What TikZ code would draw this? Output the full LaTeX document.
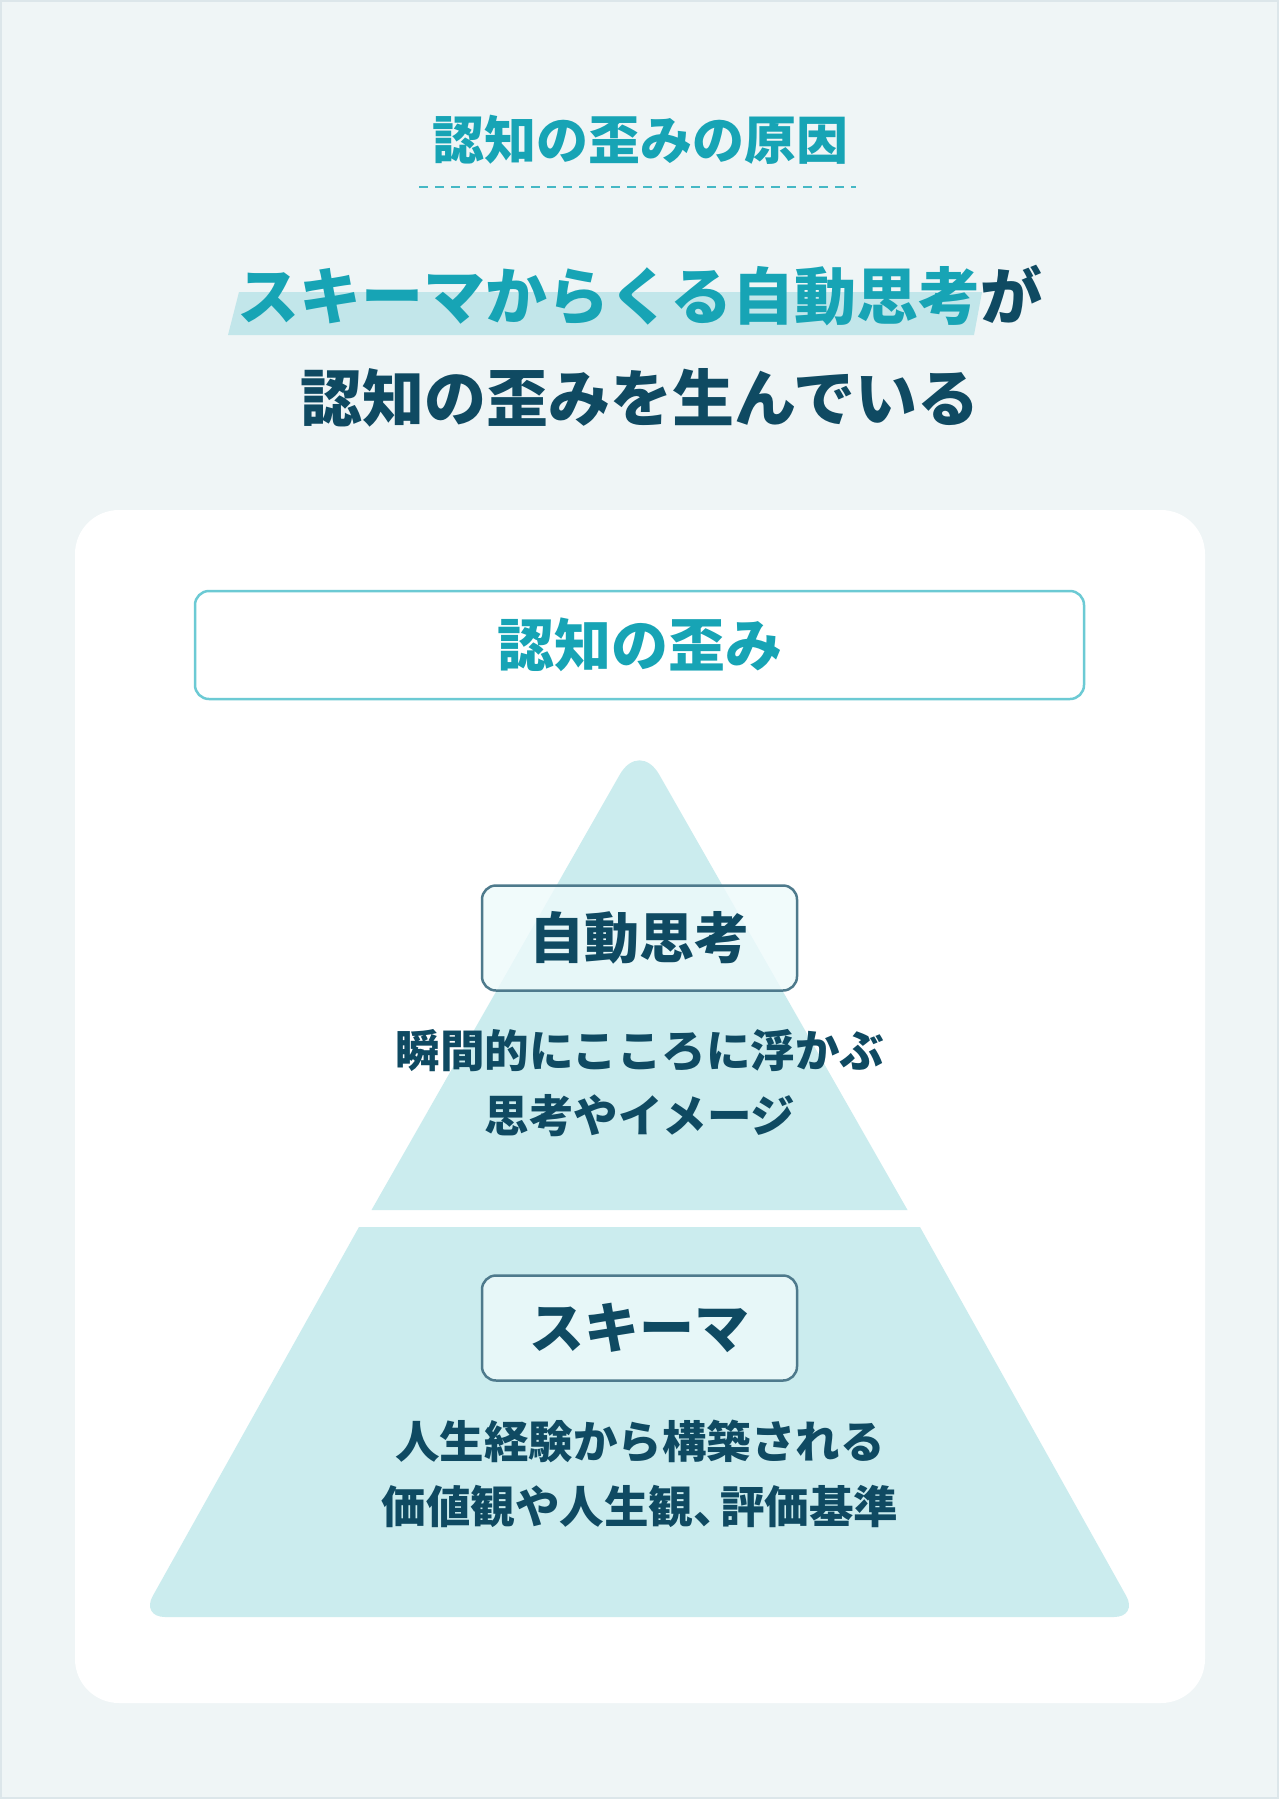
\documentclass[tikz,border=0pt]{standalone}
\usepackage{fontspec}
\setmainfont{Noto Sans CJK JP}
\usepackage{tikz}
\usetikzlibrary{positioning,calc}
\definecolor{ktPage}{HTML}{EFF5F6}
\definecolor{ktEdge}{HTML}{DCE6EA}
\definecolor{ktTeal}{HTML}{17A4B5}
\definecolor{ktDash}{HTML}{45B8C5}
\definecolor{ktBand}{HTML}{C2E6EA}
\definecolor{ktNavy}{HTML}{0F4A62}
\definecolor{ktBorder}{HTML}{6CCAD4}
\definecolor{ktSlate}{HTML}{4E7A8C}
\definecolor{ktPyramid}{HTML}{CBECEE}
\definecolor{ktBoxFill}{HTML}{EEFAFB}
\tikzset{
  titletext/.style={font=\bfseries\fontsize{52pt}{60pt}\selectfont, text=ktTeal, inner sep=0pt},
  headtext/.style={font=\bfseries\fontsize{62pt}{70pt}\selectfont, text=ktNavy, inner sep=0pt},
  keybox/.style={
    rectangle, rounded corners=14pt, draw=ktBorder, line width=2.5pt, fill=white,
    minimum width=889pt, minimum height=108pt,
    font=\bfseries\fontsize{57pt}{60pt}\selectfont, text=ktTeal
  },
  levelbox/.style={
    rectangle, rounded corners=14pt, draw=ktSlate, line width=2.5pt,
    fill=ktBoxFill, fill opacity=0.8, text opacity=1,
    minimum width=315pt, minimum height=105pt,
    font=\bfseries\fontsize{55pt}{60pt}\selectfont, text=ktNavy
  },
  desctext/.style={align=center, font=\bfseries\fontsize{44.5pt}{65pt}\selectfont, text=ktNavy, inner sep=0pt},
  pyramid/.style={fill=ktPyramid},
}
\begin{document}
\begin{tikzpicture}[x=1pt, y=-1pt]
  \useasboundingbox (0,0) rectangle (1279,1799);
  \fill[ktPage] (0,0) rectangle (1279,1799);
  \draw[ktEdge, line width=2pt] (1,1) rectangle (1278,1798);

  % heading
  \node (title) [titletext] at (640,140) {認知の歪みの原因};
  \draw[ktDash, line width=2pt, dash pattern=on 9pt off 7pt] (419,187) -- (856,187);
  \fill[ktBand] (228,335) -- (239,292) -- (982,292) -- (974,335) -- cycle;
  \node (head1) [headtext] at (640,296) {\textcolor{ktTeal}{スキーマからくる自動思考}が};
  \node (head2) [headtext] at (640,398) {認知の歪みを生んでいる};

  % card
  \fill[white, rounded corners=44pt] (75,510) rectangle (1205,1703);
  \node (distort) [keybox] at (639.5,645) {認知の歪み};

  % pyramid
  \fill[pyramid] (371.5,1210) [rounded corners=40pt] -- (639.5,740) [sharp corners] -- (907.5,1210) -- cycle;
  \fill[pyramid] (359,1227) -- (920,1227) [rounded corners=24pt] -- (1138,1617) -- (141,1617) [sharp corners] -- cycle;

  \node (auto) [levelbox] at (639.5,938) {自動思考};
  \node (autodesc) [desctext] at (640,1083) {瞬間的にこころに浮かぶ\\思考やイメージ};
  \node (schema) [levelbox] at (639.5,1328) {スキーマ};
  \node (schemadesc) [desctext] at (640,1474) {人生経験から構築される\\価値観や人生観、\kern-0.4em評価基準};
\end{tikzpicture}
\end{document}
